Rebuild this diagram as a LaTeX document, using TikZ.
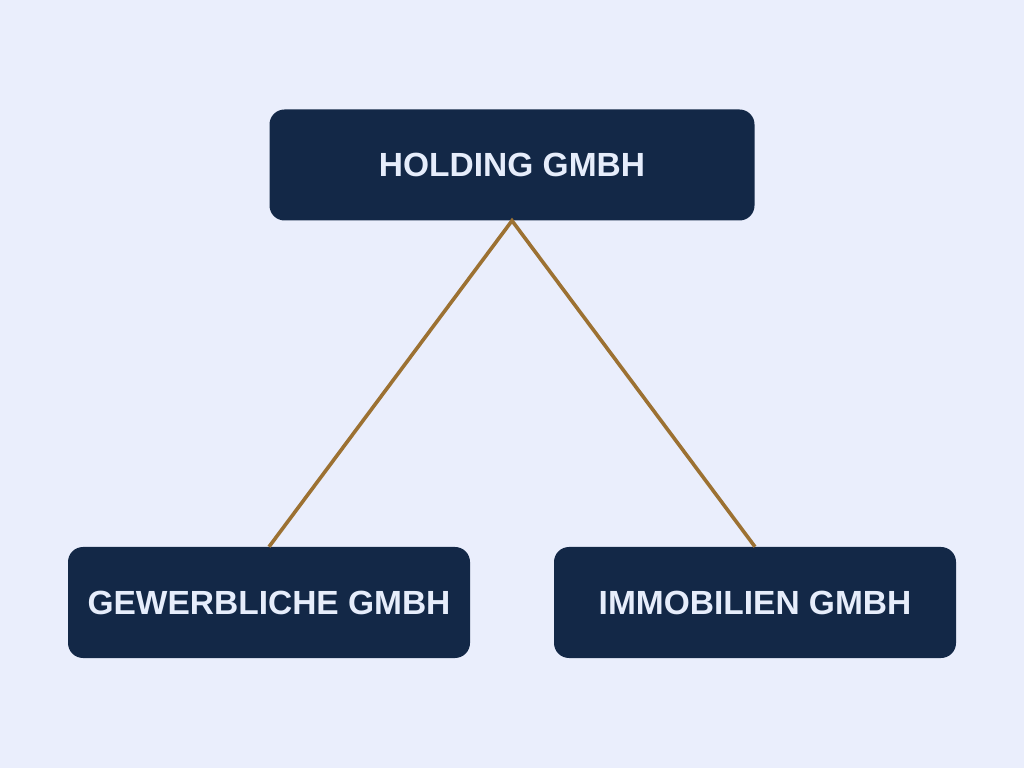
\documentclass[tikz,border=0pt]{standalone}
\usepackage{fontspec}
\setmainfont{Liberation Sans}
\definecolor{bg}{HTML}{EAEEFC}
\definecolor{boxfill}{HTML}{132847}
\definecolor{boxtext}{HTML}{E6EDFB}
\definecolor{link}{HTML}{9C7132}
\begin{document}
\begin{tikzpicture}[x=1pt,y=1pt,
  entity/.style={fill=boxfill, rounded corners=15pt, minimum width=485pt, minimum height=111pt,
    inner sep=0pt, text=boxtext, font=\fontsize{33.5}{40}\selectfont\bfseries},
  entitysmall/.style={entity, minimum width=402pt},
  linkline/.style={draw=link, line width=3.6pt}]
\fill[bg] (0,0) rectangle (1024,768);
\useasboundingbox (0,0) rectangle (1024,768);
\node[entity] (hold) at (512,603) {HOLDING GMBH};
\node[entitysmall] (gew) at (269,165.5) {GEWERBLICHE GMBH};
\node[entitysmall] (imm) at (755,165.5) {IMMOBILIEN GMBH};
\draw[linkline] (gew.north) -- (hold.south) -- (imm.north);
\end{tikzpicture}
\end{document}
